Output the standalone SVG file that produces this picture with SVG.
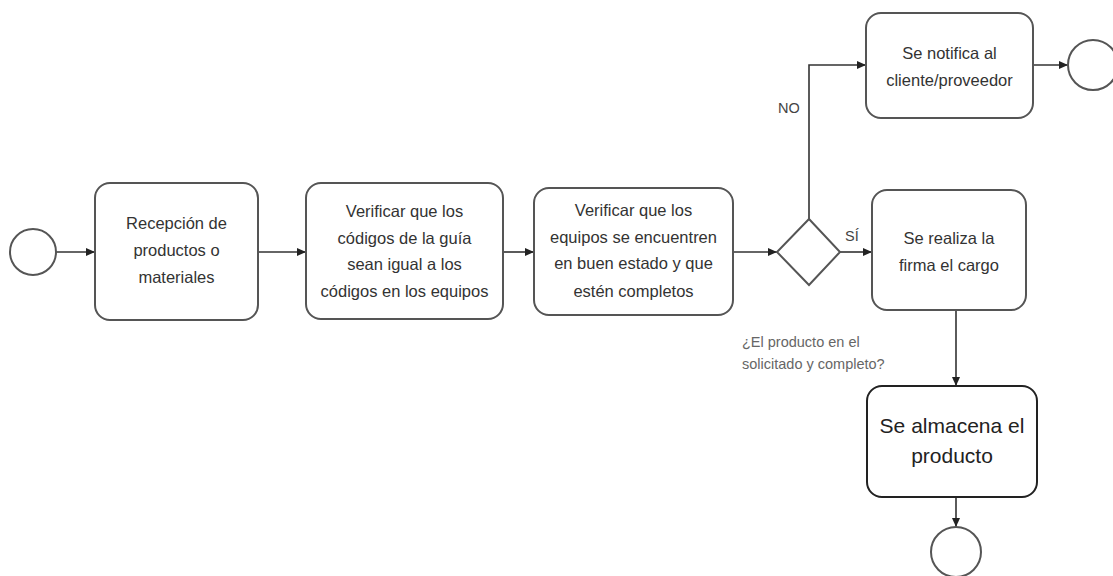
<svg xmlns="http://www.w3.org/2000/svg" width="1113" height="576" viewBox="0 0 1113 576">
<defs>
<style>
.box{fill:#fff;stroke:#555;stroke-width:2}
.dark{stroke:#222}
.ev{fill:#fff;stroke:#555;stroke-width:2}
.t{font-family:"Liberation Sans",Arial,sans-serif;font-size:16.5px;fill:#333;text-anchor:middle}
.big{font-size:21px;fill:#222}
.lbl{font-family:"Liberation Sans",Arial,sans-serif;font-size:14.5px;fill:#444}
.q{fill:#666}
.c{fill:none;stroke:#333;stroke-width:1.6}
</style>
<marker id="ah" markerWidth="10" markerHeight="8" refX="9" refY="4" orient="auto" markerUnits="userSpaceOnUse">
<path d="M0,0 L9,4 L0,8 Z" fill="#222"/>
</marker>
</defs>
<rect width="1113" height="576" fill="#fff"/>
<g id="connectors">
<path class="c" d="M56,252 H95" marker-end="url(#ah)"/>
<path class="c" d="M258,252 H306" marker-end="url(#ah)"/>
<path class="c" d="M503,252 H534" marker-end="url(#ah)"/>
<path class="c" d="M733,252 H777" marker-end="url(#ah)"/>
<path class="c" d="M809,219 V65 H866" marker-end="url(#ah)"/>
<path class="c" d="M840,252 H872" marker-end="url(#ah)"/>
<path class="c" d="M1033,65 H1068" marker-end="url(#ah)"/>
<path class="c" d="M956,310 V386" marker-end="url(#ah)"/>
<path class="c" d="M956,497 V527" marker-end="url(#ah)"/>
<text class="lbl" x="778" y="113">NO</text>
<text class="lbl" x="845" y="241">SÍ</text>
</g>
<g id="start">
<circle class="ev" cx="33" cy="252" r="23"/>
</g>
<g id="n1">
<rect class="box" x="95" y="183" width="163" height="137" rx="15"/>
<text class="t" x="176.5" y="229">Recepción de</text>
<text class="t" x="176.5" y="256">productos o</text>
<text class="t" x="176.5" y="283">materiales</text>
</g>
<g id="n2">
<rect class="box" x="306" y="183" width="197" height="136" rx="15"/>
<text class="t" x="404.5" y="217">Verificar que los</text>
<text class="t" x="404.5" y="244">códigos de la guía</text>
<text class="t" x="404.5" y="270">sean igual a los</text>
<text class="t" x="404.5" y="297">códigos en los equipos</text>
</g>
<g id="n3">
<rect class="box" x="534" y="188" width="199" height="127" rx="15"/>
<text class="t" x="633.5" y="216">Verificar que los</text>
<text class="t" x="633.5" y="243">equipos se encuentren</text>
<text class="t" x="633.5" y="269">en buen estado y que</text>
<text class="t" x="633.5" y="297">estén completos</text>
</g>
<g id="gateway">
<path class="box" d="M809,219 L840,252 L809,285 L777,252 Z"/>
<text class="lbl q" x="742" y="347">¿El producto en el</text>
<text class="lbl q" x="742" y="369">solicitado y completo?</text>
</g>
<g id="n4">
<rect class="box" x="866" y="13" width="167" height="105" rx="15"/>
<text class="t" x="949.5" y="59">Se notifica al</text>
<text class="t" x="949.5" y="86">cliente/proveedor</text>
</g>
<g id="end1">
<circle class="ev" cx="1093" cy="65" r="25"/>
</g>
<g id="n5">
<rect class="box" x="872" y="190" width="154" height="120" rx="15"/>
<text class="t" x="949" y="244">Se realiza la</text>
<text class="t" x="949" y="271">firma el cargo</text>
</g>
<g id="n6">
<rect class="box dark" x="867" y="386" width="170" height="111" rx="15"/>
<text class="t big" x="952" y="433">Se almacena el</text>
<text class="t big" x="952" y="463">producto</text>
</g>
<g id="end2">
<circle class="ev" cx="956" cy="552" r="25"/>
</g>
</svg>
